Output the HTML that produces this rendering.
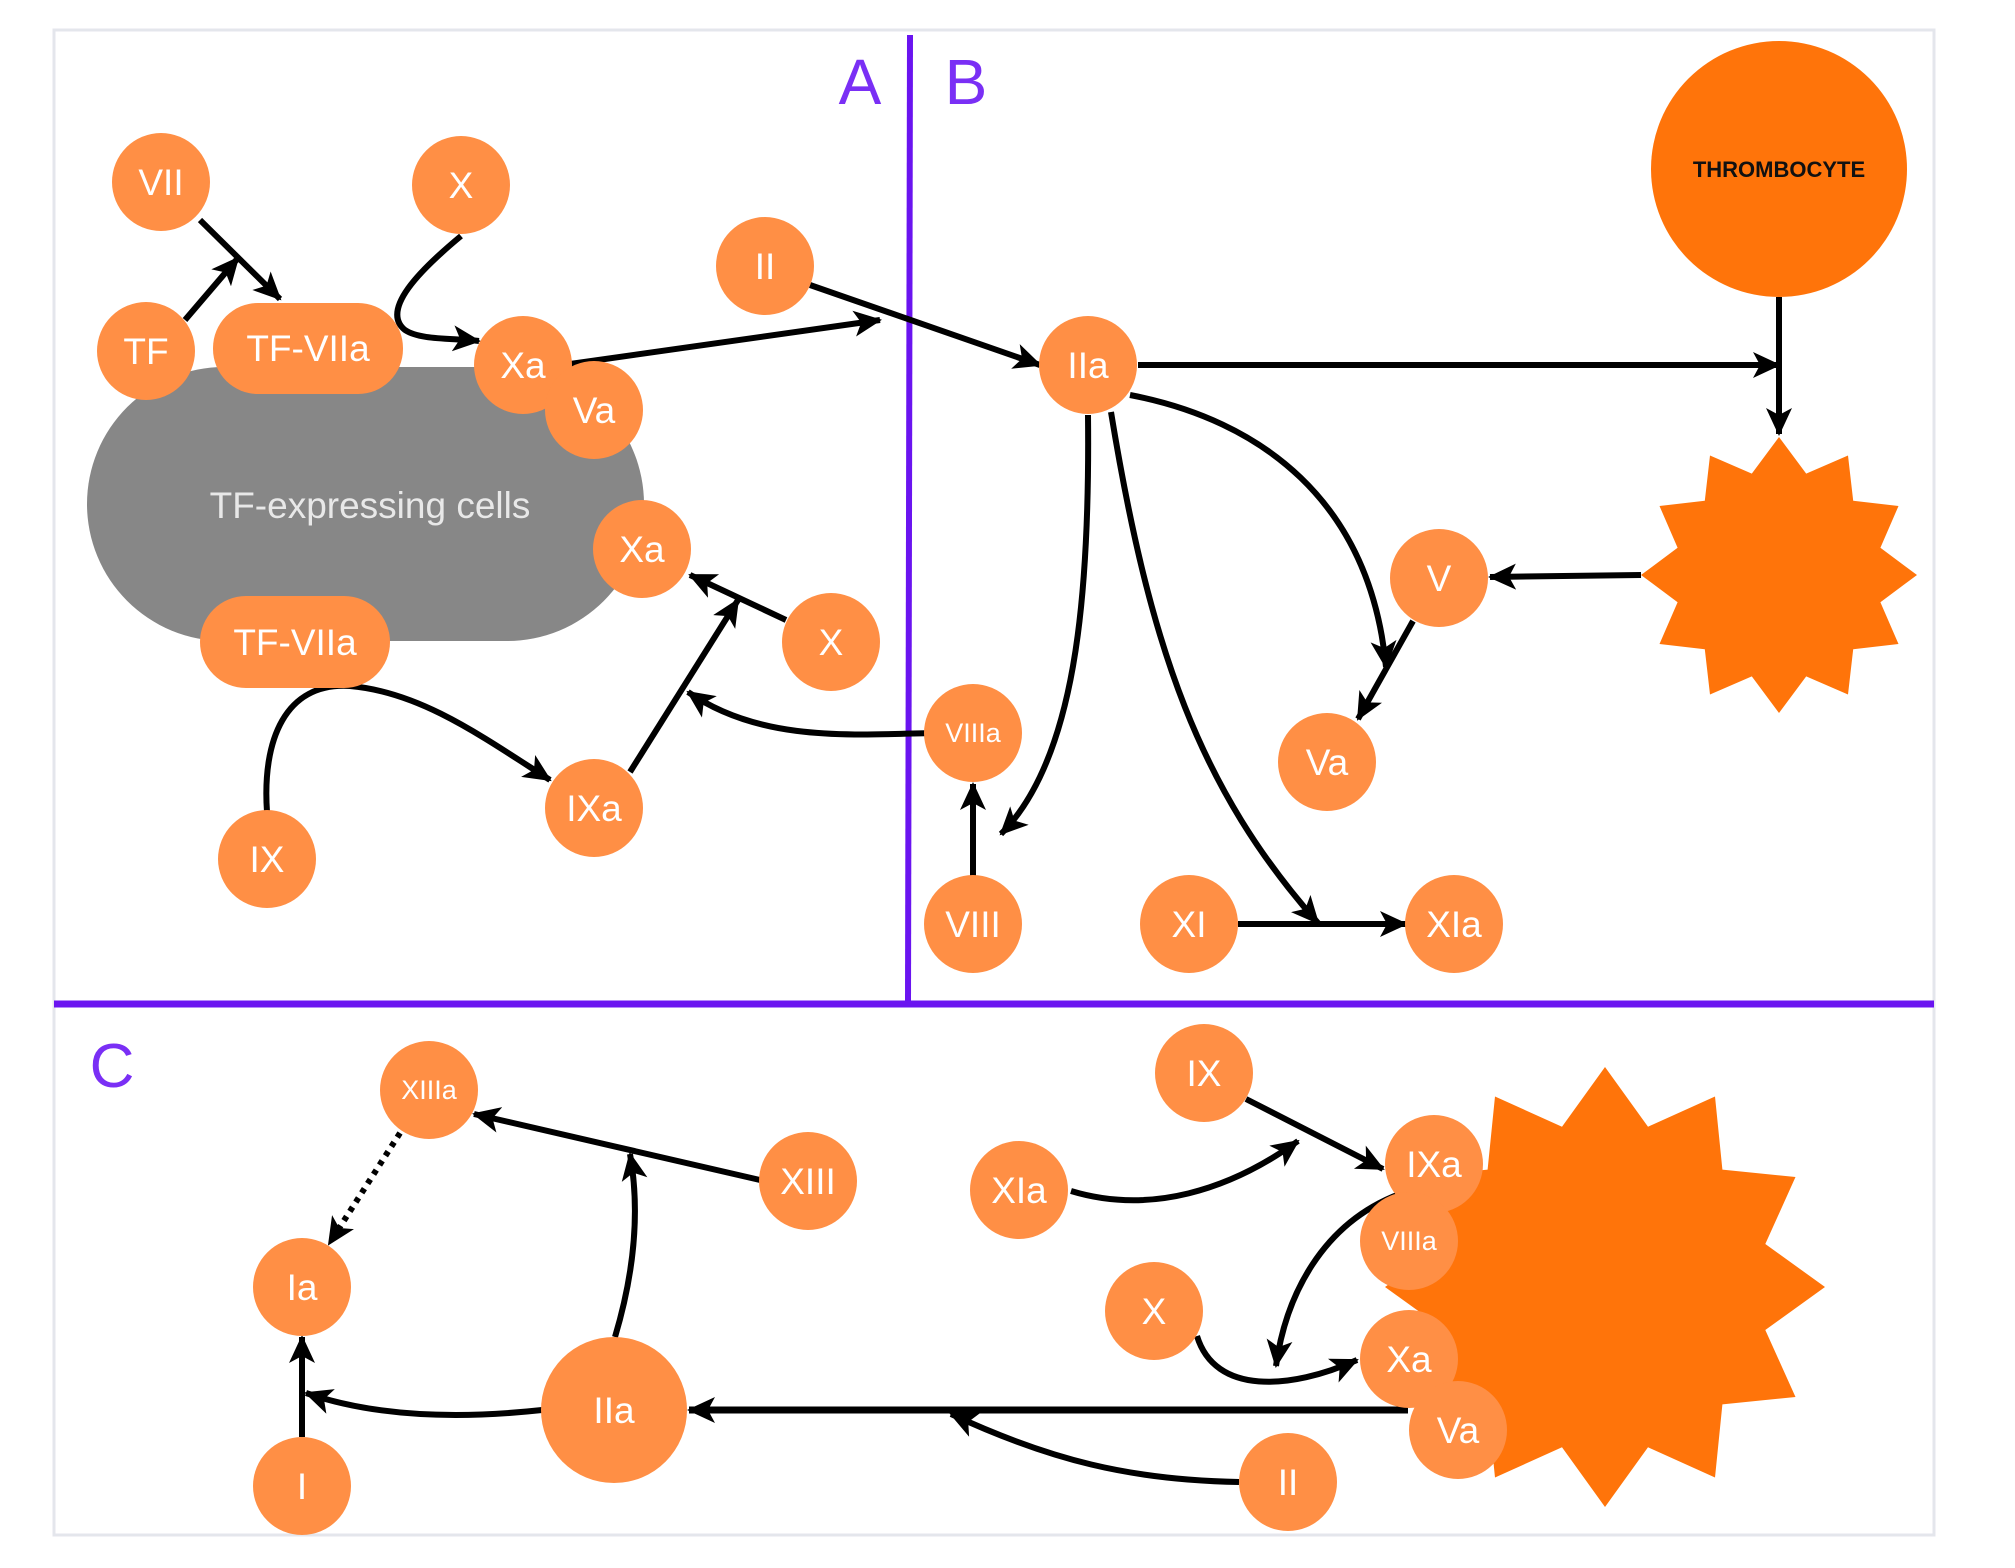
<!DOCTYPE html>
<html><head><meta charset="utf-8"><style>
html,body{margin:0;padding:0;background:#fff;}
svg{display:block;}
text{font-family:"Liberation Sans",sans-serif;}
</style></head><body>
<svg width="2015" height="1568" viewBox="0 0 2015 1568" xmlns="http://www.w3.org/2000/svg">
<defs>
<marker id="a" markerUnits="userSpaceOnUse" markerWidth="32" markerHeight="28" refX="26" refY="13" orient="auto">
<path d="M0,0 L28,13 L0,26 L7,13 z" fill="#000"/>
</marker>
</defs>
<!-- frame -->
<rect x="54" y="30" width="1880" height="1505" fill="#fff" stroke="#e4e6ec" stroke-width="3"/>
<line x1="910" y1="35" x2="908" y2="1004" stroke="#6a14f0" stroke-width="6"/>
<line x1="54" y1="1004" x2="1934" y2="1004" stroke="#6a14f0" stroke-width="7"/>
<text x="860" y="104" font-size="64" fill="#7a2ff5" text-anchor="middle">A</text>
<text x="966" y="104" font-size="64" fill="#7a2ff5" text-anchor="middle">B</text>
<text x="112" y="1087" font-size="62" fill="#7a2ff5" text-anchor="middle">C</text>

<!-- Section A -->
<rect x="87" y="367" width="557" height="274" rx="137" fill="#878787"/>
<text x="370" y="518" font-size="37" fill="#e8e8e8" text-anchor="middle">TF-expressing cells</text>

<g fill="none" stroke="#000" stroke-width="6">
<line x1="200" y1="220" x2="280" y2="299" marker-end="url(#a)"/>
<line x1="185" y1="320" x2="238" y2="258" marker-end="url(#a)"/>
<path d="M461,236 C420,270 380,310 405,330 C420,340 450,338 479,341" marker-end="url(#a)"/>
<line x1="570" y1="364" x2="880" y2="320" marker-end="url(#a)"/>
<path d="M810,285 L1040,365" marker-end="url(#a)"/>
<line x1="786" y1="620" x2="690" y2="575" marker-end="url(#a)"/>
<line x1="630" y1="772" x2="738" y2="600" marker-end="url(#a)"/>
<path d="M933,733 C850,735 760,742 688,692" marker-end="url(#a)"/>
<path d="M267,812 C262,740 285,682 350,686 C420,692 480,735 550,780" marker-end="url(#a)"/>
<line x1="973" y1="878" x2="973" y2="784" marker-end="url(#a)"/>
<!-- Section B -->
<line x1="1138" y1="365" x2="1779" y2="365" marker-end="url(#a)"/>
<line x1="1779" y1="297" x2="1779" y2="434" marker-end="url(#a)"/>
<path d="M1088,415 C1090,600 1075,760 1001,834" marker-end="url(#a)"/>
<path d="M1111,412 C1150,650 1200,790 1318,923" marker-end="url(#a)"/>
<path d="M1130,395 C1260,420 1370,500 1386,667" marker-end="url(#a)"/>
<line x1="1413" y1="621" x2="1358" y2="719" marker-end="url(#a)"/>
<line x1="1641" y1="575" x2="1490" y2="577" marker-end="url(#a)"/>
<line x1="1238" y1="924" x2="1406" y2="924" marker-end="url(#a)"/>
</g>

<!-- thrombocyte and star B -->
<circle cx="1779" cy="169" r="128" fill="#ff740a"/>
<text x="1779" y="177" font-size="22" font-weight="bold" fill="#111" text-anchor="middle">THROMBOCYTE</text>
<polygon id="starB" fill="#ff740a" points=""/>

<g fill="#ff8f45">
<circle cx="161" cy="182" r="49"/>
<circle cx="461" cy="185" r="49"/>
<circle cx="146" cy="351" r="49"/>
<rect x="213" y="303" width="190" height="91" rx="45"/>
<circle cx="523" cy="365" r="49"/>
<circle cx="594" cy="410" r="49"/>
<circle cx="642" cy="549" r="49"/>
<circle cx="831" cy="642" r="49"/>
<rect x="200" y="596" width="190" height="92" rx="46"/>
<circle cx="267" cy="859" r="49"/>
<circle cx="594" cy="808" r="49"/>
<circle cx="765" cy="266" r="49"/>
<circle cx="973" cy="733" r="49"/>
<circle cx="973" cy="924" r="49"/>
<circle cx="1088" cy="365" r="49"/>
<circle cx="1439" cy="578" r="49"/>
<circle cx="1327" cy="762" r="49"/>
<circle cx="1189" cy="924" r="49"/>
<circle cx="1454" cy="924" r="49"/>
</g>
<g fill="#fff" font-size="37" text-anchor="middle">
<text x="161" y="195">VII</text>
<text x="461" y="198">X</text>
<text x="146" y="364">TF</text>
<text x="308" y="361">TF-VIIa</text>
<text x="523" y="378">Xa</text>
<text x="594" y="423">Va</text>
<text x="642" y="562">Xa</text>
<text x="831" y="655">X</text>
<text x="295" y="655">TF-VIIa</text>
<text x="267" y="872">IX</text>
<text x="594" y="821">IXa</text>
<text x="765" y="279">II</text>
<text x="973" y="742" font-size="27">VIIIa</text>
<text x="973" y="937">VIII</text>
<text x="1088" y="378">IIa</text>
<text x="1439" y="591">V</text>
<text x="1327" y="775">Va</text>
<text x="1189" y="937">XI</text>
<text x="1454" y="937">XIa</text>
</g>

<!-- Section C -->
<polygon id="starC" fill="#ff740a" points=""/>
<g fill="none" stroke="#000" stroke-width="6">
<line x1="760" y1="1180" x2="474" y2="1114" marker-end="url(#a)"/>
<path d="M615,1337 C635,1270 640,1210 630,1154" marker-end="url(#a)"/>
<path d="M400,1133 L329,1244" stroke-dasharray="5,6" marker-end="url(#a)"/>
<line x1="302" y1="1437" x2="302" y2="1337" marker-end="url(#a)"/>
<path d="M542,1410 C450,1420 370,1415 306,1393" marker-end="url(#a)"/>
<line x1="1408" y1="1410" x2="689" y2="1410" stroke-width="7" marker-end="url(#a)"/>
<path d="M1239,1482 C1130,1480 1050,1460 951,1414" marker-end="url(#a)"/>
<line x1="1246" y1="1099" x2="1383" y2="1169" marker-end="url(#a)"/>
<path d="M1071,1191 C1150,1215 1230,1190 1298,1141" marker-end="url(#a)"/>
<path d="M1408,1191 C1320,1220 1285,1300 1276,1366" marker-end="url(#a)"/>
<path d="M1197,1336 C1215,1395 1290,1390 1357,1360" marker-end="url(#a)"/>
</g>
<g fill="#ff8f45">
<circle cx="429" cy="1090" r="49"/>
<circle cx="808" cy="1181" r="49"/>
<circle cx="302" cy="1287" r="49"/>
<circle cx="614" cy="1410" r="73"/>
<circle cx="302" cy="1486" r="49"/>
<circle cx="1204" cy="1073" r="49"/>
<circle cx="1019" cy="1190" r="49"/>
<circle cx="1434" cy="1164" r="49"/>
<circle cx="1409" cy="1241" r="49"/>
<circle cx="1154" cy="1311" r="49"/>
<circle cx="1409" cy="1359" r="49"/>
<circle cx="1458" cy="1430" r="49"/>
<circle cx="1288" cy="1482" r="49"/>
</g>
<g fill="#fff" font-size="37" text-anchor="middle">
<text x="429" y="1099" font-size="27">XIIIa</text>
<text x="808" y="1194">XIII</text>
<text x="302" y="1300">Ia</text>
<text x="614" y="1423">IIa</text>
<text x="302" y="1499">I</text>
<text x="1204" y="1086">IX</text>
<text x="1019" y="1203">XIa</text>
<text x="1434" y="1177">IXa</text>
<text x="1409" y="1250" font-size="27">VIIIa</text>
<text x="1154" y="1324">X</text>
<text x="1409" y="1372">Xa</text>
<text x="1458" y="1443">Va</text>
<text x="1288" y="1495">II</text>
</g>
<script>
function star(id,cx,cy,R,r){var p=[];for(var i=0;i<24;i++){var ang=(i*15-90)*Math.PI/180;var rr=i%2?r:R;p.push((cx+rr*Math.cos(ang)).toFixed(1)+","+(cy+rr*Math.sin(ang)).toFixed(1));}document.getElementById(id).setAttribute("points",p.join(" "));}
star("starB",1779,575,138,105);
star("starC",1605,1287,220,166);
</script>
</svg>
</body></html>
